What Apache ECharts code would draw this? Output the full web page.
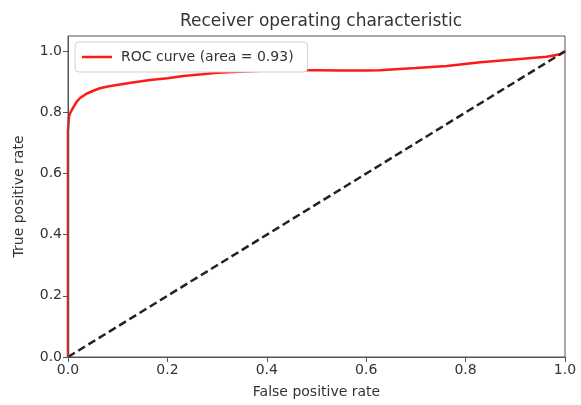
<!DOCTYPE html>
<html>
<head>
<meta charset="utf-8">
<script src="https://cdn.jsdelivr.net/npm/echarts@6/dist/echarts.min.js"></script>
<style>html,body{margin:0;padding:0;background:#fff}#c{width:581px;height:405px}</style>
</head>
<body>
<div id="c"></div>
<script>
const fpr = [0, 0, 0.002, 0.005, 0.01, 0.0175, 0.025, 0.038, 0.05, 0.064, 0.08, 0.098, 0.13, 0.165, 0.2, 0.232, 0.27, 0.3, 0.366, 0.4, 0.45, 0.5, 0.55, 0.6, 0.627, 0.7, 0.762, 0.83, 0.897, 0.963, 0.99, 1.0];
const tpr = [0, 0.74, 0.786, 0.80, 0.815, 0.835, 0.848, 0.862, 0.870, 0.879, 0.885, 0.89, 0.898, 0.906, 0.912, 0.919, 0.925, 0.93, 0.935, 0.937, 0.938, 0.938, 0.937, 0.937, 0.938, 0.945, 0.952, 0.964, 0.973, 0.982, 0.99, 1.0];
const diagX = [0, 1];
const diagY = [0, 1];
const tickValues = [0, 0.2, 0.4, 0.6, 0.8, 1.0];
const titleText = 'Receiver operating characteristic';
const xName = 'False positive rate';
const yName = 'True positive rate';
const legendName = 'ROC curve (area = 0.93)';

const font = 'DejaVu Sans';
const axisColor = '#555';
const textColor = '#333';

const chart = echarts.init(document.getElementById('c'), null, {renderer: 'canvas'});
const axisCommon = {
  type: 'value',
  min: 0,
  z: 5,
  nameLocation: 'middle',
  nameTextStyle: {fontFamily: font, fontSize: 14, color: textColor},
  axisLine: {show: true, onZero: false, lineStyle: {color: axisColor, width: 1}},
  axisTick: {show: true, inside: false, length: 5, lineStyle: {color: axisColor, width: 1}, customValues: tickValues},
  axisLabel: {fontFamily: font, fontSize: 14, color: textColor, margin: 6, customValues: tickValues, formatter: v => v.toFixed(1)},
  splitLine: {show: false}
};
chart.setOption({
  animation: false,
  backgroundColor: '#fff',
  title: {
    text: titleText,
    left: 316, top: 8, textAlign: 'center',
    textStyle: {fontFamily: font, fontSize: 17, fontWeight: 'normal', color: textColor}
  },
  grid: {left: 68, right: 16, top: 36, bottom: 48, show: true, borderColor: axisColor, borderWidth: 1, containLabel: false},
  legend: {
    left: 75, top: 42,
    padding: [8, 14, 8, 7],
    borderColor: '#d0d0d0', borderWidth: 1, borderRadius: 4,
    backgroundColor: '#fff',
    icon: 'rect', itemWidth: 30, itemHeight: 2.5, itemGap: 5,
    textStyle: {fontFamily: font, fontSize: 14, color: textColor, padding: [0, 0, 0, 4]},
    data: [legendName]
  },
  xAxis: Object.assign({}, axisCommon, {max: 1, interval: 0.2, name: xName, nameGap: 28}),
  yAxis: Object.assign({}, axisCommon, {max: 1.05, interval: 0.2, name: yName, nameGap: 42}),
  series: [
    {
      name: legendName, type: 'line', symbol: 'none', clip: false,
      lineStyle: {color: '#ff1a1a', width: 2.5},
      itemStyle: {color: '#ff1a1a'},
      data: fpr.map((x, i) => [x, tpr[i]])
    },
    {
      name: 'diag', type: 'line', symbol: 'none', clip: false,
      lineStyle: {color: '#222', width: 2.5, type: [8, 4]},
      data: diagX.map((x, i) => [x, diagY[i]])
    }
  ]
});
</script>
</body>
</html>
